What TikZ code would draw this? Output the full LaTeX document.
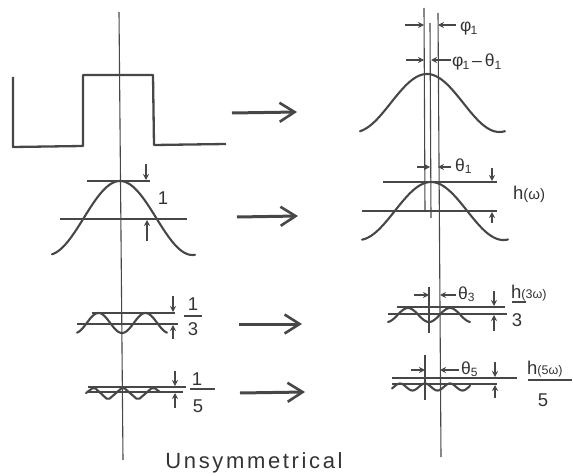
\documentclass[tikz,border=0pt]{standalone}
\usepackage{fontspec}
\setmainfont{Liberation Sans}
\usetikzlibrary{arrows.meta}
\definecolor{ink}{gray}{0.28}
\definecolor{txt}{gray}{0.2}
\tikzset{
  curve/.style={ink, line width=2.1pt, line cap=round, line join=round},
  sq/.style={ink, line width=2.3pt, line join=round},
  refline/.style={ink, line width=1.1pt},
  axisline/.style={ink, line width=1.1pt},
  bigarrow/.style={ink, line width=3pt, -{Straight Barb[length=15pt,width=19pt,line width=2.6pt]}},
  dimarrow/.style={ink, line width=1.2pt, -{Stealth[length=6pt,width=6pt]}},
  lbl/.style={txt, inner sep=0pt, font=\fontsize{18.5}{18.5}\selectfont},
  glbl/.style={txt, inner sep=0pt, anchor=west, font=\fontsize{17.5}{17.5}\selectfont},
}
\newcommand{\sbx}[1]{\raisebox{-2.5pt}{\fontsize{12}{12}\selectfont #1}}
\begin{document}
\begin{tikzpicture}[x=1pt, y=-1pt]
\useasboundingbox (0,0) rectangle (573,476);
% axes
\draw[axisline] (119,12) -- (123,460);
\draw[axisline] (438,13) -- (441,457);
\draw[axisline] (424,8) -- (425,212);
\draw[axisline] (430,23) -- (431,218);
\draw[axisline] (429,287) -- (429,333);
\draw[axisline] (425,355) -- (425,400);
% square wave
\draw[sq] (13,77) -- (13,147) -- (83,146) -- (83,75) -- (153,75) -- (154,145) -- (226,144);
% left fundamental
\draw[curve] plot[domain=52:195, samples=80, smooth] (\x, {218 - 37*cos((\x-120)/145*360)});
\draw[refline] (87,181) -- (150,181);
\draw[refline] (60,219) -- (187,219);
\draw[dimarrow] (146,164) -- (146,180);
\draw[dimarrow] (147,241) -- (147,220);
\node[lbl] (l1) at (163,198) {1};
% left third
\draw[curve] plot[domain=77:167, samples=80, smooth] (\x, {323 + 10*cos((\x-122)/47*360)});
\draw[refline] (92,313) -- (175,313);
\draw[refline] (77,324) -- (178,324);
\draw[dimarrow] (173,296) -- (173,312);
\draw[dimarrow] (173,339) -- (173,325);
\node[lbl] (l3n) at (193,304) {1};
\draw[refline] (184,316) -- (202,316);
\node[lbl] (l3d) at (193,329) {3};
% left fifth
\draw[curve, rounded corners=2pt] (86,393) -- (94,387) -- (108,400) -- (123,387) -- (138,400) -- (153,387) -- (160,392);
\draw[refline] (88,387) -- (186,387);
\draw[refline] (88,392) -- (183,392);
\draw[dimarrow] (175,371) -- (175,386);
\draw[dimarrow] (175,408) -- (175,393);
\node[lbl] (l5n) at (197,379) {1};
\draw[refline] (190,389) -- (215,389);
\node[lbl] (l5d) at (198,406) {5};
% big arrows
\coordinate (a1s) at (232,113); \coordinate (a1e) at (297,112);
\coordinate (a2s) at (237,217); \coordinate (a2e) at (298,216);
\coordinate (a3s) at (239,324); \coordinate (a3e) at (302,324);
\coordinate (a4s) at (240,393); \coordinate (a4e) at (305,392);
\draw[bigarrow] (a1s) -- (a1e);
\draw[bigarrow] (a2s) -- (a2e);
\draw[bigarrow] (a3s) -- (a3e);
\draw[bigarrow] (a4s) -- (a4e);
% right top output
\draw[curve] plot[domain=360:505, samples=80, smooth] (\x, {103 - 29*cos((\x-427)/145*360)});
\draw[dimarrow] (405,25) -- (424,25);
\draw[dimarrow] (456,25) -- (438,25);
\node[glbl] (phi) at (460,29) {φ\kern-1pt\sbx{1}};
\draw[dimarrow] (406,60) -- (424,60);
\draw[dimarrow] (451,60) -- (431,60);
\node[glbl] (phith) at (452,62) {φ\kern-1pt\sbx{1}\,–\,θ\sbx{1}};
% right fundamental
\draw[curve] plot[domain=362:508, samples=80, smooth] (\x, {211 - 29*cos((\x-431)/145*360)});
\draw[refline] (383,182) -- (497,182);
\draw[refline] (362,211) -- (497,211);
\draw[dimarrow] (417,167) -- (430,167);
\draw[dimarrow] (451,167) -- (438,167);
\node[glbl] (th1) at (455,166) {θ\sbx{1}};
\draw[dimarrow] (492,168) -- (492,181);
\draw[dimarrow] (492,223) -- (492,212);
\node[lbl] (hw) at (529,194) {h\fontsize{15}{15}\selectfont(ω)};
% right third
\draw[curve] plot[domain=388:470, samples=80, smooth] (\x, {315 + 7*cos((\x-429)/42*360)});
\draw[refline] (397,307) -- (505,307);
\draw[refline] (388,314) -- (507,314);
\draw[dimarrow] (414,295) -- (429,295);
\draw[dimarrow] (456,295) -- (440,295);
\node[glbl] (th3) at (458,294) {θ\sbx{3}};
\draw[dimarrow] (494,291) -- (494,306);
\draw[dimarrow] (494,331) -- (494,315);
\node[lbl, anchor=west] (h3n) at (511,293) {h\fontsize{12.5}{12.5}\selectfont(3ω)};
\draw[refline] (512,302) -- (526,302);
\node[lbl] (h3d) at (517,320) {3};
% right fifth
\draw[curve] plot[domain=392:470, samples=80, smooth] (\x, {387 - 3.5*cos((\x-425)/25*360)});
\draw[refline] (392,378) -- (517,378);
\draw[refline] (392,384) -- (497,384);
\draw[dimarrow] (411,370) -- (425,370);
\draw[dimarrow] (459,370) -- (440,370);
\node[glbl] (th5) at (461,369) {θ\sbx{5}};
\draw[dimarrow] (495,362) -- (495,377);
\draw[dimarrow] (495,398) -- (495,385);
\node[lbl, anchor=west] (h5n) at (527,369) {h\fontsize{12.5}{12.5}\selectfont(5ω)};
\draw[refline] (528,380) -- (572,380);
\node[lbl] (h5d) at (543,400) {5};
% caption
\node[txt, inner sep=0pt, anchor=base, font=\fontsize{22}{22}\selectfont\addfontfeatures{LetterSpace=12}] (cap) at (254,468) {Unsymmetrical};
\end{tikzpicture}
\end{document}
